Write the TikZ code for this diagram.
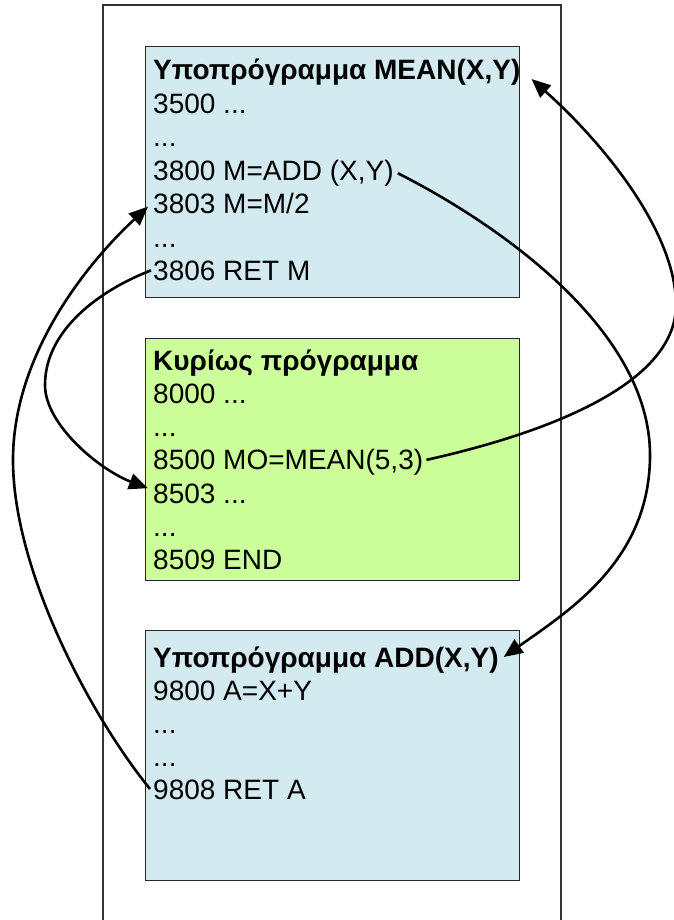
\documentclass[tikz,border=0pt]{standalone}
\usepackage{fontspec}
\setmainfont{Liberation Sans}
\usetikzlibrary{arrows.meta}

\definecolor{subblue}{RGB}{210,234,240}
\definecolor{mainlime}{RGB}{204,255,153}
\newcommand\ellip{...}

\tikzset{
  prog/.style={draw=black!85, line width=1.3pt, anchor=north west, inner sep=0pt,
    minimum width=374pt, minimum height=#1},
  codeline/.style={anchor=base west, inner sep=0pt, text height=20pt, text depth=0pt,
    font=\fontsize{28}{33}\selectfont},
  progtitle/.style={codeline, font=\fontsize{28}{33}\selectfont\bfseries},
  jump/.style={line width=2.6pt, -{Triangle[length=19pt,width=16pt]}},
}

\begin{document}
\begin{tikzpicture}[x=1pt, y=-1pt]
\useasboundingbox (0,0) rectangle (673,920);
% memory strip
\draw[line width=1.4pt, black!80] (103,930) -- (103,5) -- (561,5) -- (561,930);

% the three programs
\node[prog=251pt, fill=subblue]  (meanbox) at (145,46)  {};
\node[prog=242pt, fill=mainlime] (mainbox) at (145,338) {};
\node[prog=250pt, fill=subblue]  (addbox)  at (145,630) {};

\node[progtitle] (meanT) at (153,80) {Υποπρόγραμμα MEAN(X,Y)};
\foreach \t [count=\i] in {3500 \ellip, \ellip, {3800 M=ADD (X,Y)}, 3803 M=M/2, \ellip, 3806 RET M}
  \node[codeline] (mean\i) at (153,{80+33.4*\i}) {\t};

\node[progtitle] (mainT) at (153,370) {Κυρίως πρόγραμμα};
\foreach \t [count=\i] in {8000 \ellip, \ellip, {8500 MO=MEAN(5,3)}, 8503 \ellip, \ellip, 8509 END}
  \node[codeline] (main\i) at (153,{370+33.3*\i}) {\t};

\node[progtitle] (addT) at (153,667) {Υποπρόγραμμα ADD(X,Y)};
\foreach \t [count=\i] in {9800 A=X+Y, \ellip, \ellip, 9808 RET A}
  \node[codeline] (add\i) at (153,{667+33*\i}) {\t};

% calls and returns
\draw[jump] ([xshift=3pt]main3.east) .. controls (560,430) and (676,380) .. (676,305)
  .. controls (676,230) and (600,140) .. ([xshift=11pt,yshift=-9pt]meanT.east);
\draw[jump] ([xshift=4pt,yshift=-3pt]mean3.east) .. controls (500,225) and (650,330) .. (650,455)
  .. controls (650,560) and (570,610) .. ([xshift=5pt]addT.east);
\draw[jump] ([xshift=-3pt]add4.west) .. controls (90,715) and (13,570) .. (13,460)
  .. controls (13,360) and (80,270) .. ([xshift=-5pt,yshift=-3pt]mean4.west);
\draw[jump] ([xshift=-2pt]mean6.west) .. controls (100,290) and (45,330) .. (45,385)
  .. controls (45,425) and (100,470) .. ([xshift=-5pt,yshift=5pt]main4.west);
\end{tikzpicture}
\end{document}
